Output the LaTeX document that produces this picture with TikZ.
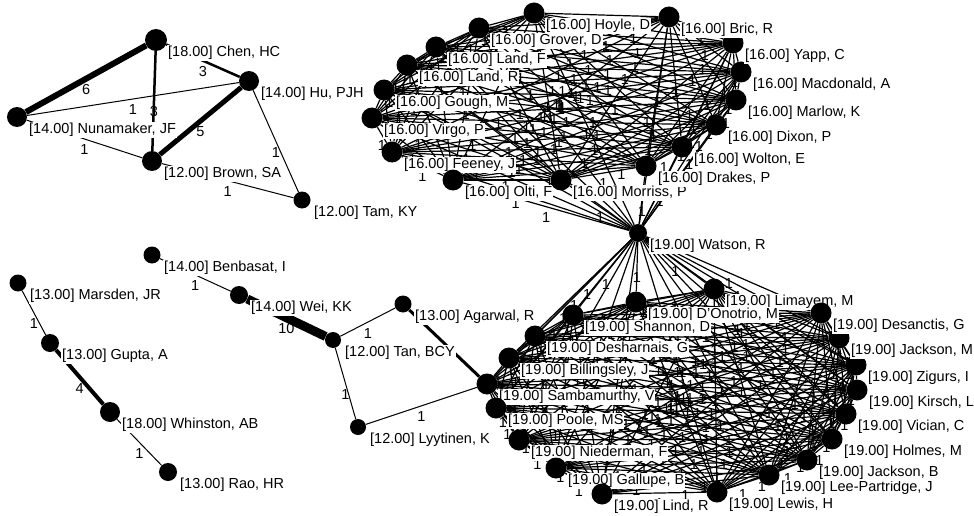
\documentclass[tikz,border=0pt]{standalone}
\usepackage{fontspec}
\setmainfont{Liberation Sans}
\usetikzlibrary{positioning}
\pgfdeclarelayer{ties}
\pgfsetlayers{ties,main}

\def\topgroup{hoyle,grover,landf,landr,gough,virgo,feeney,olti,morriss,drakes,wolton,dixon,marlow,macdonald,yapp,bric}
\def\lowgroup{limayem,donotrio,shannon,desharnais,billingsley,sambamurthy,poole,niederman,gallupe,lind,lewis,leepartridge,jacksonb,holmes,vician,kirsch,zigurs,jacksonm,desanctis}

\begin{document}
\begin{tikzpicture}[x=1pt, y=-1pt,
    actor/.style={circle, fill=black, inner sep=0pt, minimum size=#1},
    actor/.default=21,
    who/.style={anchor=west, fill=white, inner sep=1pt, font=\fontsize{14.5}{16}\selectfont},
    tie/.style={line width=#1},
    tie/.default=1,
    wt/.style={midway, inner sep=0pt, yshift=-11pt, font=\fontsize{14.5}{16}\selectfont}]
\useasboundingbox (0,0) rectangle (974,516);

% small groups
\foreach \n/\x/\y/\s/\t in {chen/156/40/22/{[18.00] Chen, HC}, hu/249/81/20/{[14.00] Hu, PJH},
    nunamaker/17/117/20/{[14.00] Nunamaker, JF}, brown/152/161/20/{[12.00] Brown, SA},
    tam/302/200/17/{[12.00] Tam, KY}, benbasat/152/255/17/{[14.00] Benbasat, I},
    wei/239/295/18/{[14.00] Wei, KK}, tan/333/340/16/{[12.00] Tan, BCY},
    agarwal/403/304/17/{[13.00] Agarwal, R}, lyytinen/358/427/16/{[12.00] Lyytinen, K},
    marsden/18/283/17/{[13.00] Marsden, JR}, gupta/50/343/18/{[13.00] Gupta, A},
    whinston/110/412/20/{[18.00] Whinston, AB}, rao/168/472/18/{[13.00] Rao, HR},
    watson/638/233/18/{[19.00] Watson, R}}
{
  \node[actor=\s] (\n) at (\x,\y) {};
  \node[who] (\n-tag) at ([shift={(11,13)}]\n.center) {\t};
}

% the 16.00 group
\foreach \n/\x/\y/\t in {hoyle/534/13/{Hoyle, D}, grover/479/28/{Grover, D}, landf/436/47/{Land, F},
    landr/407/65/{Land, R}, gough/384/90/{Gough, M}, virgo/372/118/{Virgo, P},
    feeney/392/152/{Feeney, J}, olti/453/180/{Olti, F}, morriss/561/180/{Morriss, P},
    drakes/646/166/{Drakes, P}, wolton/682/147/{Wolton, E}, dixon/716/125/{Dixon, P},
    marlow/736/100/{Marlow, K}, macdonald/741/72/{Macdonald, A}, yapp/733/43/{Yapp, C},
    bric/669/17/{Bric, R}}
{
  \node[actor] (\n) at (\x,\y) {};
  \node[who] (\n-tag) at ([shift={(11,13)}]\n.center) {[16.00] \t};
}

% the 19.00 group
\foreach \n/\x/\y/\t in {limayem/714/289/{Limayem, M}, donotrio/636/302/{D'Onotrio, M},
    shannon/573/315/{Shannon, D}, desharnais/535/336/{Desharnais, G},
    billingsley/509/358/{Billingsley, J}, sambamurthy/487/384/{Sambamurthy, V},
    poole/496/408/{Poole, MS}, niederman/519/440/{Niederman, F}, gallupe/556/468/{Gallupe, B},
    lind/602/494/{Lind, R}, lewis/717/492/{Lewis, H}, leepartridge/769/475/{Lee-Partridge, J},
    jacksonb/807/460/{Jackson, B}, holmes/832/439/{Holmes, M}, vician/846/414/{Vician, C},
    kirsch/857/390/{Kirsch, L}, zigurs/856/365/{Zigurs, I}, jacksonm/839/338/{Jackson, M},
    desanctis/821/313/{Desanctis, G}}
{
  \node[actor] (\n) at (\x,\y) {};
  \node[who] (\n-tag) at ([shift={(11,13)}]\n.center) {[19.00] \t};
}

\begin{pgfonlayer}{ties}
  % weighted ties
  \draw[tie=6] (nunamaker) -- (chen) node[wt] {6};
  \draw[tie=2.5] (chen) -- (hu) node[wt] {3};
  \draw[tie=2.5] (chen) -- (brown) node[wt] {3};
  \draw[tie] (nunamaker) -- (hu) node[wt] {1};
  \draw[tie=5] (hu) -- (brown) node[wt] {5};
  \draw[tie] (nunamaker) -- (brown) node[wt] {1};
  \draw[tie] (hu) -- (tam) node[wt] {1};
  \draw[tie] (brown) -- (tam) node[wt] {1};
  \draw[tie] (benbasat) -- (wei) node[wt] {1};
  \draw[tie=9] (wei) -- (tan) node[wt] {10};
  \draw[tie] (tan) -- (agarwal) node[wt] {1};
  \draw[tie] (tan) -- (lyytinen) node[wt] {1};
  \draw[tie=3] (agarwal) -- (sambamurthy);
  \draw[tie] (lyytinen) -- (sambamurthy) node[wt] {1};
  \draw[tie] (marsden) -- (gupta) node[wt] {1};
  \draw[tie=4] (gupta) -- (whinston) node[wt] {4};
  \draw[tie] (whinston) -- (rao) node[wt] {1};
  % every pair inside the two groups, and Watson to all
  \foreach \a [count=\i] in \topgroup {
    \draw[tie=1.2] (watson) -- (\a) node[wt] {1};
    \foreach \b [count=\j] in \topgroup
      {\ifnum\j>\i \draw[tie=1.2] (\a) -- (\b) node[wt] {1}; \fi}
  }
  \foreach \a [count=\i] in \lowgroup {
    \draw[tie=1.2] (watson) -- (\a) node[wt] {1};
    \foreach \b [count=\j] in \lowgroup
      {\ifnum\j>\i \draw[tie=1.2] (\a) -- (\b) node[wt] {1}; \fi}
  }
\end{pgfonlayer}
\end{tikzpicture}
\end{document}
